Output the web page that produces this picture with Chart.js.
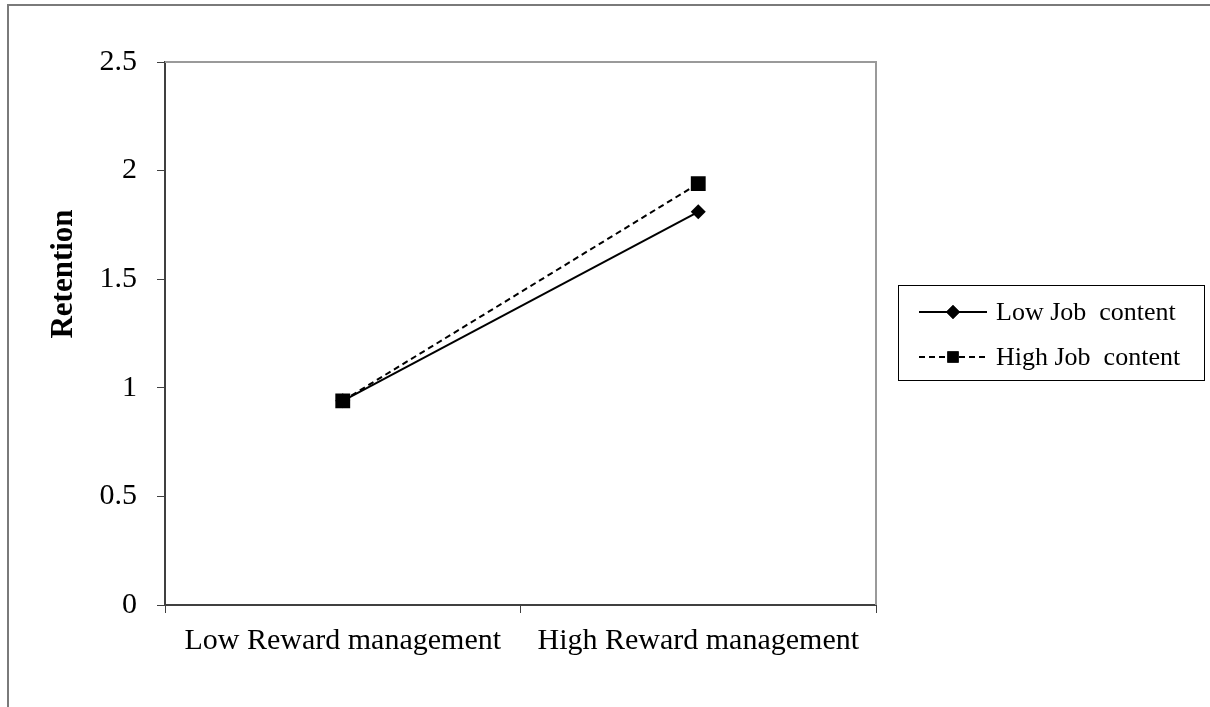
<!DOCTYPE html>
<html>
<head>
<meta charset="utf-8">
<script src="https://cdn.jsdelivr.net/npm/chart.js@4/dist/chart.umd.min.js"></script>
<style>
html,body{margin:0;padding:0;background:#fff;}
canvas{display:block;}
</style>
</head>
<body>
<canvas id="c" width="1210" height="707"></canvas>
<script>
const categories = ["Low Reward management", "High Reward management"];
const lowJobContent = [0.94, 1.81];
const highJobContent = [0.94, 1.94];
const seriesNames = ["Low Job  content", "High Job  content"];
const yTicks = [0, 0.5, 1, 1.5, 2, 2.5];
const yTitle = "Retention";

const FONT = "'Liberation Serif', 'Times New Roman', serif";

const framePlugin = {
  id: 'frame',
  beforeDraw(chart) {
    const ctx = chart.ctx;
    ctx.save();
    ctx.fillStyle = '#fff';
    ctx.fillRect(0, 0, chart.width, chart.height);
    ctx.strokeStyle = '#7a7a7a';
    ctx.lineWidth = 2;
    ctx.beginPath();
    ctx.moveTo(8, chart.height);
    ctx.lineTo(8, 5);
    ctx.lineTo(chart.width, 5);
    ctx.stroke();
    ctx.restore();
  },
  afterDraw(chart) {
    const ctx = chart.ctx;
    const a = chart.chartArea;
    ctx.save();
    ctx.strokeStyle = '#9a9a9a';
    ctx.lineWidth = 2;
    ctx.beginPath();
    ctx.moveTo(a.left, a.top);
    ctx.lineTo(a.right, a.top);
    ctx.lineTo(a.right, a.bottom);
    ctx.stroke();
    ctx.fillStyle = '#000';
    ctx.font = "bold 31px " + FONT;
    ctx.textAlign = 'center';
    ctx.textBaseline = 'middle';
    ctx.translate(64, 274);
    ctx.rotate(-Math.PI / 2);
    ctx.fillText(yTitle, 0, 0);
    ctx.restore();

    ctx.save();
    const bx = 898, by = 285, bw = 306, bh = 95;
    ctx.strokeStyle = '#000';
    ctx.lineWidth = 1;
    ctx.strokeRect(bx + 0.5, by + 0.5, bw, bh);
    const rows = [312, 357];
    chart.data.datasets.forEach((ds, i) => {
      const y = rows[i];
      ctx.strokeStyle = '#000';
      ctx.lineWidth = 2;
      ctx.setLineDash(ds.borderDash || []);
      ctx.beginPath();
      ctx.moveTo(919, y);
      ctx.lineTo(987, y);
      ctx.stroke();
      ctx.setLineDash([]);
      Chart.helpers.drawPoint(ctx, {
        pointStyle: ds.pointStyle,
        radius: ds.legendRadius,
        rotation: 0,
        borderWidth: 0
      }, 953, y);
      ctx.fillStyle = '#000';
      ctx.fill();
      ctx.font = "26px " + FONT;
      ctx.textAlign = 'left';
      ctx.textBaseline = 'middle';
      ctx.fillText(ds.label, 996, y + 1);
    });
    ctx.restore();
  }
};

new Chart(document.getElementById('c'), {
  type: 'line',
  data: {
    labels: categories,
    datasets: [
      {
        label: seriesNames[0],
        data: lowJobContent,
        borderColor: '#000',
        backgroundColor: '#000',
        borderWidth: 2,
        pointStyle: 'rectRot',
        pointRadius: 7.5,
        pointBorderWidth: 0,
        legendRadius: 7,
        order: 2,
        tension: 0
      },
      {
        label: seriesNames[1],
        data: highJobContent,
        borderColor: '#000',
        backgroundColor: '#000',
        borderWidth: 2,
        borderDash: [6, 4],
        pointStyle: 'rect',
        pointRadius: 10.5,
        pointBorderWidth: 0,
        legendRadius: 8,
        order: 1,
        tension: 0
      }
    ]
  },
  options: {
    responsive: false,
    animation: false,
    events: [],
    layout: { padding: { left: 0, top: 62, right: 334, bottom: 0 } },
    plugins: { legend: { display: false }, tooltip: { enabled: false } },
    scales: {
      x: {
        type: 'category',
        offset: true,
        grid: { display: true, drawOnChartArea: false, offset: true, tickLength: 8, color: '#404040', lineWidth: 1 },
        border: { display: true, color: '#404040', width: 2 },
        ticks: { color: '#000', font: { family: FONT, size: 30 }, padding: 10, maxRotation: 0, autoSkip: false },
        afterFit(s) { s.height = 102; }
      },
      y: {
        min: 0,
        max: 2.5,
        afterBuildTicks(s) { s.ticks = yTicks.map(v => ({ value: v })); },
        grid: { display: true, drawOnChartArea: false, tickLength: 8, color: '#404040', lineWidth: 1 },
        border: { display: true, color: '#404040', width: 2 },
        ticks: { color: '#000', font: { family: FONT, size: 30 }, padding: 20, callback: (v) => String(v) },
        afterFit(s) { s.width = 165; }
      }
    }
  },
  plugins: [framePlugin]
});
</script>
</body>
</html>
